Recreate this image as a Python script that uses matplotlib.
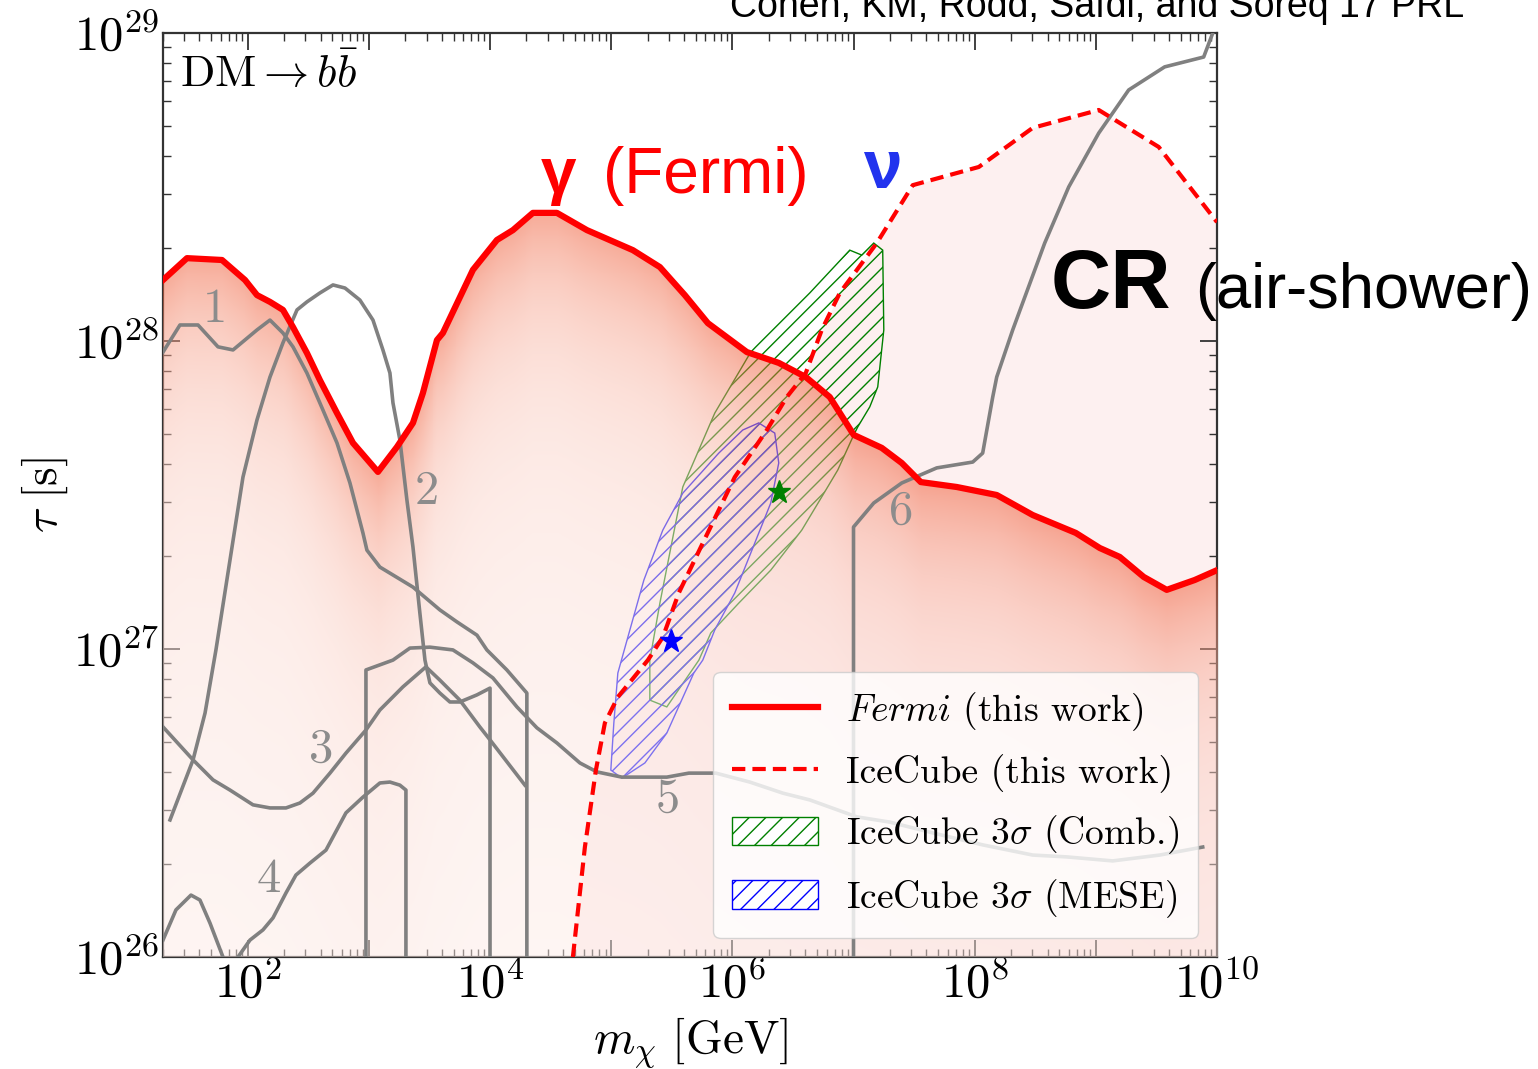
import numpy as np
import matplotlib
matplotlib.use("Agg")
import matplotlib.pyplot as plt
from matplotlib.lines import Line2D
from matplotlib.patches import Patch, Polygon
from matplotlib.ticker import LogLocator, FuncFormatter, NullFormatter

plt.rcParams['font.family'] = 'serif'
plt.rcParams['font.serif'] = ['cmr10']
plt.rcParams['mathtext.fontset'] = 'cm'
plt.rcParams['axes.formatter.use_mathtext'] = True
plt.rcParams['axes.unicode_minus'] = False

# all values are log10(m_chi / GeV) and log10(tau / s)
fermi_lx = [1.301, 1.499, 1.788, 1.978, 2.077, 2.184, 2.291, 2.374, 2.489, 2.596, 2.737,
            2.869, 3.075, 3.232, 3.364, 3.446, 3.562, 3.611, 3.859, 4.057, 4.189, 4.354,
            4.552, 4.800, 5.179, 5.402, 5.608, 5.798, 6.120, 6.383, 6.606, 6.804, 7.002,
            7.233, 7.398, 7.555, 7.852, 8.182, 8.479, 8.834, 9.032, 9.197, 9.395, 9.585,
            9.816, 10.0]
fermi_ly = [28.198, 28.269, 28.263, 28.198, 28.149, 28.127, 28.101, 28.045, 27.961, 27.873,
            27.766, 27.669, 27.575, 27.656, 27.734, 27.831, 28.003, 28.026, 28.231, 28.328,
            28.360, 28.416, 28.416, 28.360, 28.295, 28.240, 28.149, 28.058, 27.964, 27.929,
            27.883, 27.818, 27.695, 27.653, 27.604, 27.542, 27.526, 27.500, 27.435, 27.377,
            27.328, 27.299, 27.234, 27.192, 27.224, 27.256]

icecube_lx = [4.684, 4.783, 4.874, 4.948, 5.055, 5.303, 5.427, 5.558, 5.756, 6.020, 6.285,
              6.449, 6.606, 6.738, 6.887, 7.192, 7.489, 8.034, 8.479, 9.024, 9.519, 10.0]
icecube_ly = [26.0, 26.357, 26.607, 26.760, 26.844, 26.964, 27.039, 27.182, 27.344, 27.558,
              27.711, 27.818, 27.896, 28.036, 28.156, 28.318, 28.506, 28.565, 28.692, 28.750,
              28.630, 28.386]

comb_lx = [5.319, 5.319, 5.402, 5.591, 5.855, 6.152, 6.194, 6.639, 6.969, 7.068, 7.167,
           7.241, 7.250, 7.200, 7.134, 7.035, 7.002, 6.870, 6.738, 6.573, 6.317, 6.053,
           5.822, 5.724, 5.459]
comb_ly = [26.834, 26.964, 27.149, 27.526, 27.766, 27.964, 27.981, 28.156, 28.295, 28.279,
           28.318, 28.295, 28.036, 27.851, 27.786, 27.721, 27.695, 27.581, 27.494, 27.386,
           27.256, 27.149, 27.052, 26.964, 26.812]

mese_lx = [4.997, 5.022, 5.055, 5.138, 5.270, 5.426, 5.591, 5.888, 6.086, 6.218, 6.350,
           6.383, 6.317, 6.185, 6.020, 5.855, 5.756, 5.682, 5.459, 5.278, 5.088]
mese_ly = [26.607, 26.760, 26.922, 27.039, 27.224, 27.386, 27.506, 27.636, 27.711, 27.734,
           27.701, 27.604, 27.474, 27.344, 27.182, 27.062, 26.964, 26.922, 26.727, 26.630,
           26.581]

star_lx = [5.492, 6.383]
star_ly = [27.026, 27.510]
star_colors = ['blue', 'green']

# previous limits (gray)
c1_lx = [1.301, 1.441, 1.590, 1.755, 1.879, 2.077, 2.184, 2.291, 2.374, 2.489, 2.621, 2.737,
         2.844, 2.951, 2.984, 3.091, 3.364, 3.586, 3.727, 3.892, 3.974, 4.139, 4.304, 4.304]
c1_ly = [27.964, 28.052, 28.052, 27.981, 27.971, 28.036, 28.068, 28.026, 27.981, 27.896,
         27.776, 27.669, 27.539, 27.377, 27.321, 27.266, 27.201, 27.127, 27.088, 27.045,
         26.997, 26.932, 26.857, 26.0]
c2_lx = [1.359, 1.549, 1.648, 1.738, 1.854, 1.961, 2.077, 2.184, 2.291, 2.407, 2.489, 2.596,
         2.704, 2.803, 2.926, 3.034, 3.116, 3.174, 3.199, 3.256, 3.314, 3.364, 3.421, 3.463,
         3.504, 3.586, 3.669, 3.751, 3.892, 4.000, 4.000]
c2_ly = [26.445, 26.640, 26.792, 26.997, 27.289, 27.558, 27.744, 27.883, 27.994, 28.101,
         28.127, 28.156, 28.182, 28.172, 28.133, 28.068, 27.971, 27.896, 27.799, 27.679,
         27.484, 27.331, 27.117, 26.964, 26.890, 26.857, 26.828, 26.828, 26.851, 26.873, 26.0]
c3_lx = [1.301, 1.549, 1.714, 1.854, 2.044, 2.184, 2.316, 2.431, 2.539, 2.679, 2.811, 2.976,
         3.091, 3.281, 3.471, 3.586, 3.751, 3.916, 4.000, 4.288]
c3_ly = [26.747, 26.640, 26.575, 26.542, 26.494, 26.484, 26.484, 26.500, 26.532, 26.597,
         26.662, 26.737, 26.802, 26.877, 26.942, 26.899, 26.834, 26.747, 26.705, 26.558]
c4_lx = [1.920, 2.019, 2.126, 2.209, 2.316, 2.398, 2.514, 2.646, 2.811, 2.951, 3.091, 3.174,
         3.256, 3.306, 3.306]
c4_ly = [26.0, 26.055, 26.088, 26.127, 26.208, 26.266, 26.305, 26.347, 26.468, 26.519,
         26.565, 26.568, 26.558, 26.542, 26.0]
c4b_lx = [1.301, 1.408, 1.532, 1.606, 1.689, 1.796]
c4b_ly = [26.055, 26.153, 26.201, 26.185, 26.110, 26.0]
c5_lx = [2.976, 2.976, 3.199, 3.339, 3.504, 3.694, 3.859, 4.024, 4.222, 4.387, 4.552, 4.742,
         4.882, 5.088, 5.459, 5.641, 5.864, 6.144, 6.417, 6.639, 7.027, 7.299, 7.654, 8.067,
         8.479, 8.760, 9.139, 9.527, 9.882]
c5_ly = [26.0, 26.932, 26.964, 27.003, 27.006, 26.997, 26.955, 26.906, 26.812, 26.744,
         26.695, 26.630, 26.601, 26.584, 26.584, 26.597, 26.597, 26.568, 26.532, 26.510,
         26.455, 26.438, 26.403, 26.364, 26.331, 26.325, 26.312, 26.331, 26.357]
c6_lx = [7.0, 7.0, 7.167, 7.398, 7.687, 7.984, 8.066, 8.149, 8.182, 8.314, 8.578, 8.776,
         9.024, 9.271, 9.568, 9.890, 9.965]
c6_ly = [26.0, 27.396, 27.474, 27.539, 27.588, 27.607, 27.636, 27.818, 27.883, 28.036,
         28.318, 28.500, 28.675, 28.815, 28.890, 28.922, 29.0]

gray_curves = [(c1_lx, c1_ly), (c2_lx, c2_ly), (c3_lx, c3_ly), (c4_lx, c4_ly),
               (c4b_lx, c4b_ly), (c5_lx, c5_ly), (c6_lx, c6_ly)]
curve_names = ['1', '2', '3', '4', '5', '6']
name_lx = [1.730, 3.479, 2.605, 2.176, 5.468, 7.390]
name_ly = [28.101, 27.510, 26.672, 26.250, 26.510, 27.445]

xmin, xmax = 20, 1e10
ymin, ymax = 1e26, 1e29

fig = plt.figure(figsize=(15.38, 10.69), dpi=100)
ax = fig.add_axes([0.10598, 0.10477, 0.68531, 0.86436])
ax.set_xscale('log')
ax.set_yscale('log')
ax.set_xlim(xmin, xmax)
ax.set_ylim(ymin, ymax)
ax.set_autoscale_on(False)

# CR (air-shower) region under the IceCube line
ix = 10 ** np.array(icecube_lx)
iy = 10 ** np.array(icecube_ly)
ax.fill_between(ix, ymin, iy, color='#fdf0f0', lw=0, zorder=1)

# hatched IceCube 3 sigma regions
ax.add_patch(Polygon(np.column_stack([10 ** np.array(comb_lx), 10 ** np.array(comb_ly)]),
                     closed=True, facecolor='none', edgecolor='green', hatch='//', lw=1.0, zorder=2))
ax.add_patch(Polygon(np.column_stack([10 ** np.array(mese_lx), 10 ** np.array(mese_ly)]),
                     closed=True, facecolor='none', edgecolor='blue', hatch='//', lw=1.0, zorder=2))

# shaded gradient below the Fermi limit
gx = np.linspace(np.log10(xmin), np.log10(xmax), 1100)
gy = np.linspace(26, 29, 950)
yc = np.interp(gx, fermi_lx, fermi_ly)
d = yc[None, :] - gy[:, None]
f = np.clip(0.75 * np.exp(-d / 0.3) + 0.25 * np.exp(-d / 3.0), 0, 1)
img = np.zeros((len(gy), len(gx), 4))
img[..., 0] = (255 - 16 * f) / 255
img[..., 1] = (255 - 170 * f) / 255
img[..., 2] = (255 - 210 * f) / 255
img[..., 3] = np.where(d >= 0, 0.5, 0.0)
ax.imshow(img, extent=(0, 1, 0, 1), transform=ax.transAxes, origin='lower',
          aspect='auto', interpolation='nearest', zorder=3)

for lx, ly in gray_curves:
    ax.plot(10 ** np.array(lx), 10 ** np.array(ly), color='#808080', lw=2.6, zorder=4)
for name, lx, ly in zip(curve_names, name_lx, name_ly):
    ax.text(10 ** lx, 10 ** ly, name, color='#8c8c8c', fontsize=35, ha='center', va='center', zorder=4)

ax.plot(ix, iy, color='red', lw=3, dashes=(3.2, 1.7), zorder=5)
ax.plot(10 ** np.array(fermi_lx), 10 ** np.array(fermi_ly), color='red', lw=4.5, zorder=6)
for lx, ly, c in zip(star_lx, star_ly, star_colors):
    ax.plot(10 ** lx, 10 ** ly, marker='*', color=c, ms=17, ls='none', zorder=8)

# annotations
sans = ['Liberation Sans', 'DejaVu Sans']
ax.text(0.016, 0.955, r'$\mathrm{DM} \rightarrow b\bar{b}$', transform=ax.transAxes,
        fontsize=32.5, ha='left', va='center')
ax.text(0.358, 0.827, 'γ', transform=ax.transAxes, color='red', fontsize=46,
        fontweight='bold', family=sans, ha='left', va='baseline')
ax.text(0.417, 0.827, '(Fermi)', transform=ax.transAxes, color='red', fontsize=46,
        family=sans, ha='left', va='baseline')
ax.text(0.683, 0.832, 'ν', transform=ax.transAxes, color='#2233ee', fontsize=50,
        fontweight='bold', family=sans, ha='center', va='baseline')
ax.text(0.842, 0.702, 'CR', transform=ax.transAxes, color='black', fontsize=60,
        fontweight='bold', family=sans, ha='left', va='baseline', clip_on=False)
ax.text(0.979, 0.702, '(air-shower)', transform=ax.transAxes, color='black', fontsize=45.5,
        family=sans, ha='left', va='baseline', clip_on=False)
fig.text(0.713, 0.984, 'Cohen, KM, Rodd, Safdi, and Soreq 17 PRL', fontsize=27,
         family=sans, ha='center', va='baseline')

# axes styling
ax.xaxis.set_major_locator(LogLocator(base=10, numticks=30))
ax.xaxis.set_minor_locator(LogLocator(base=10, subs=np.arange(2, 10), numticks=100))
ax.yaxis.set_major_locator(LogLocator(base=10, numticks=30))
ax.yaxis.set_minor_locator(LogLocator(base=10, subs=np.arange(2, 10), numticks=100))


def x_fmt(v, pos):
    e = int(round(np.log10(v)))
    if v < xmin or v > xmax * 1.01 or e % 2:
        return ''
    return r'$10^{%d}$' % e


def y_fmt(v, pos):
    if v < ymin * 0.99 or v > ymax * 1.01:
        return ''
    return r'$10^{%d}$' % int(round(np.log10(v)))


ax.xaxis.set_major_formatter(FuncFormatter(x_fmt))
ax.yaxis.set_major_formatter(FuncFormatter(y_fmt))
ax.xaxis.set_minor_formatter(NullFormatter())
ax.yaxis.set_minor_formatter(NullFormatter())
ax.tick_params(which='both', direction='in', top=True, right=True, colors='#333333')
ax.tick_params(which='major', length=12, width=1.3, labelsize=35, pad=3, labelcolor='black')
ax.tick_params(which='minor', length=6, width=1.0)
for s in ax.spines.values():
    s.set_linewidth(1.6)
    s.set_color('#333333')

ax.set_xlabel(r'$m_\chi\ [\mathrm{GeV}]$', fontsize=34, labelpad=6)
ax.set_ylabel(r'$\tau\ [\mathrm{s}]$', fontsize=34, labelpad=2)

handles = [Line2D([], [], color='red', lw=4.5),
           Line2D([], [], color='red', lw=3, dashes=(3.2, 1.7)),
           Patch(facecolor='white', edgecolor='green', hatch='//'),
           Patch(facecolor='white', edgecolor='blue', hatch='//')]
labels = [r'$\mathit{Fermi}$ (this work)', 'IceCube (this work)',
          r'IceCube $3\sigma$ (Comb.)', r'IceCube $3\sigma$ (MESE)']
leg = ax.legend(handles, labels, loc='lower right', fontsize=27, handlelength=2.3,
                handleheight=0.8, handletextpad=0.75, labelspacing=0.55, borderpad=0.5,
                framealpha=0.8, edgecolor='#cccccc', fancybox=True)
leg.set_zorder(10)

fig.savefig('out.png', dpi=100)
